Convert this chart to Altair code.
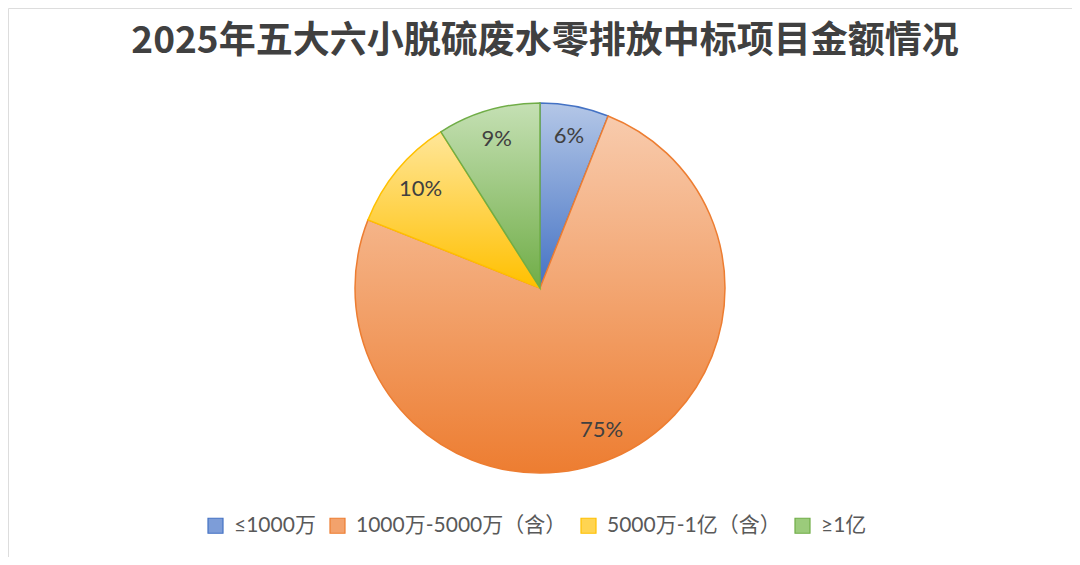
import altair as alt
import pandas as pd

title_text = "2025年五大六小脱硫废水零排放中标项目金额情况"
categories = ["≤1000万", "1000万-5000万（含）", "5000万-1亿（含）", "≥1亿"]
shares = [6, 75, 10, 9]
label_text = ["6%", "75%", "10%", "9%"]

base_colors = ["#4472c4", "#ed7d31", "#ffc000", "#70ad47"]
light_colors = ["#b4c7e7", "#f8cbad", "#ffe699", "#c5e0b4"]
mid_colors = ["#7d9dd8", "#f3a26c", "#ffd451", "#9bcb7b"]

df = pd.DataFrame({
    "cat": categories,
    "pct": shares,
    "lab": label_text,
    "order": list(range(len(categories))),
})

W, H = 1064, 549
CX, CY = 532, 280
R = 185


def grad(light, dark):
    return {
        "gradient": "linear",
        "x1": 0, "y1": 0, "x2": 0, "y2": 1,
        "stops": [{"offset": 0, "color": light}, {"offset": 1, "color": dark}],
    }


conds = [
    {"test": f"datum.cat === '{c}'", "value": grad(l, b)}
    for c, l, b in zip(categories, light_colors, base_colors)
]

base = alt.Chart(df).transform_window(
    cum="sum(pct)", sort=[{"field": "order"}], frame=[None, 0]
).transform_calculate(
    start="datum.cum - datum.pct", mid="datum.cum - datum.pct / 2"
)

theta_scale = alt.Scale(domain=[0, 100])

legend = alt.Legend(
    title=None,
    orient="none",
    direction="horizontal",
    legendX=197,
    legendY=507,
    symbolType="square",
    symbolSize=225,
    symbolStrokeWidth=1.2,
    labelFont="Lato, Noto Sans CJK SC",
    labelFontSize=21,
    labelColor="#595959",
    labelLimit=0,
    columnPadding=11,
    labelOffset=8,
)

arcs = base.mark_arc(radius=R, strokeWidth=1.5).encode(
    theta=alt.Theta("start:Q", scale=theta_scale, stack=None),
    theta2="cum:Q",
    fill=alt.Fill(
        field="cat", type="nominal",
        scale=alt.Scale(domain=categories, range=mid_colors),
        sort=categories,
        legend=legend,
        condition=conds,
    ),
    stroke=alt.Stroke(
        "cat:N",
        scale=alt.Scale(domain=categories, range=base_colors),
        sort=categories,
        legend=legend,
    ),
    x=alt.value(CX),
    y=alt.value(CY),
)

labels = base.mark_text(
    radius=155, font="Lato", fontSize=22, color="#404040",
    align="center", baseline="middle",
).encode(
    theta=alt.Theta("mid:Q", scale=theta_scale, stack=None),
    text="lab:N",
    x=alt.value(CX),
    y=alt.value(CY),
)

title_df = pd.DataFrame({"t": [title_text]})
title = alt.Chart(title_df).mark_text(
    font="Noto Sans CJK SC", fontSize=37, fontWeight="bold", color="#404040",
    align="center", baseline="middle",
).encode(text="t:N", x=alt.value(537), y=alt.value(34))

chart = alt.layer(arcs, labels, title).properties(
    width=W, height=H, padding=0, autosize=alt.AutoSizeParams(type="none"),
).configure_view(stroke="#d9d9d9", strokeWidth=2).configure(background="white")

chart.save("out.html", embed_options={"renderer": "svg", "actions": False})
